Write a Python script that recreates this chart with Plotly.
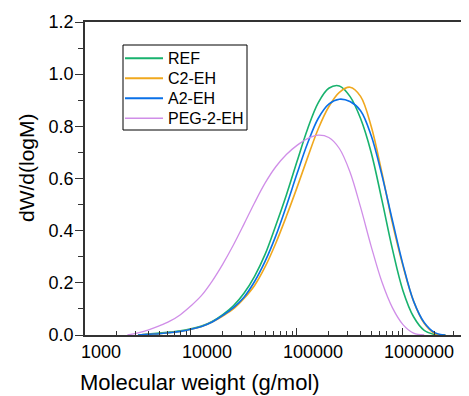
import plotly.graph_objects as go

# ---- data ----
mw = [2512, 3162, 3981, 5012, 6310, 7943, 10000, 12589, 15849, 19953,
      25119, 31623, 39811, 50119, 63096, 79433, 100000, 125893, 158489,
      199526, 251189, 316228, 398107, 501187, 630957, 794328, 1000000,
      1258925, 1584893, 1995262, 2511886]

ref = [None, 0.0, 0.004, 0.007, 0.011, 0.016, 0.024, 0.034, 0.052, 0.078,
       0.112, 0.16, 0.225, 0.31, 0.42, 0.537, 0.665, 0.79, 0.89,
       0.946, 0.955, 0.915, 0.83, 0.70, 0.52, 0.33, 0.17,
       0.07, 0.018, 0.002, 0.0]
c2eh = [None, 0.0, 0.003, 0.005, 0.009, 0.014, 0.022, 0.033, 0.05, 0.073,
        0.10, 0.14, 0.19, 0.262, 0.352, 0.455, 0.565, 0.68, 0.79,
        0.875, 0.93, 0.95, 0.915, 0.80, 0.625, 0.43, 0.265,
        0.13, 0.045, 0.006, 0.0]
a2eh = [None, 0.0, 0.003, 0.005, 0.009, 0.014, 0.022, 0.033, 0.05, 0.075,
        0.105, 0.145, 0.205, 0.283, 0.38, 0.495, 0.618, 0.735, 0.83,
        0.885, 0.904, 0.895, 0.86, 0.765, 0.615, 0.44, 0.27,
        0.13, 0.048, 0.009, 0.0]
peg = [0.0, 0.008, 0.02, 0.035, 0.053, 0.078, 0.112, 0.152, 0.207, 0.272,
       0.345, 0.425, 0.507, 0.583, 0.645, 0.692, 0.727, 0.753, 0.766,
       0.757, 0.715, 0.625, 0.49, 0.34, 0.205, 0.105, 0.04,
       0.007, 0.0, None, None]

series_names = ["REF", "C2-EH", "A2-EH", "PEG-2-EH"]
series_values = [ref, c2eh, a2eh, peg]
series_colors = ["#18b26e", "#f0a81e", "#0a70e8", "#d08ee8"]
series_widths = [1.6, 1.6, 1.6, 1.3]

x_tickvals = [1000, 10000, 100000, 1000000]
x_ticktext = ["1000", "10000", "100000", "1000000"]
x_minor = [2000, 3000, 4000, 5000, 6000, 7000, 8000, 9000,
           20000, 30000, 40000, 50000, 60000, 70000, 80000, 90000,
           200000, 300000, 400000, 500000, 600000, 700000, 800000, 900000,
           2000000, 3000000, 4000000]

FONT = "Liberation Sans, Arial, sans-serif"

# figure geometry (page has an 8px body margin)
W, H = 461, 388
ML, MR, MT, MB = 77, 0, 14, 61
PW, PH = W - ML - MR, H - MT - MB


def px(xp):  # page x pixel -> paper x
    return (xp - 8 - ML) / PW


def py(yp):  # page y pixel -> paper y
    return (H - MB - (yp - 8)) / PH


fig = go.Figure()
for name, vals, col, w in zip(series_names, series_values, series_colors, series_widths):
    fig.add_trace(go.Scatter(x=mw, y=vals, mode="lines", name=name, showlegend=False,
                             connectgaps=False,
                             line=dict(color=col, width=w, shape="spline", smoothing=1.0)))

fig.update_layout(
    width=W, height=H,
    margin=dict(l=ML, r=MR, t=MT, b=MB, pad=0, autoexpand=False),
    paper_bgcolor="white", plot_bgcolor="white",
    font=dict(family=FONT, color="black"),
    showlegend=False,
)

fig.update_xaxes(
    type="log", range=[3, 6.623], automargin=False,
    showline=True, linecolor="#333333", linewidth=1.5, mirror=True,
    showgrid=False, zeroline=False,
    ticks="inside", ticklen=7, tickwidth=1.2, tickcolor="#333333",
    tickvals=x_tickvals, ticktext=x_ticktext,
    tickfont=dict(size=18, family=FONT, color="black"),
    ticklabelshift=16,
    minor=dict(ticks="inside", ticklen=4, tickwidth=1, tickcolor="#333333",
               tickvals=x_minor, showgrid=False),
)
fig.update_yaxes(
    range=[0, 1.2], automargin=False,
    showline=True, linecolor="#333333", linewidth=1.5, mirror=False,
    showgrid=False, zeroline=False,
    ticks="outside", ticklen=8, tickwidth=1.2, tickcolor="#333333",
    tick0=0, dtick=0.2, tickformat=".1f",
    tickfont=dict(size=18, family=FONT, color="black"),
    ticklabelstandoff=-2,
    minor=dict(ticks="outside", ticklen=5, tickwidth=1, tickcolor="#333333",
               dtick=0.1, showgrid=False),
)

# legend box (drawn manually to match the compact Origin-style legend)
fig.add_shape(type="rect", xref="paper", yref="paper",
              x0=px(123), x1=px(247), y0=py(45), y1=py(130),
              line=dict(color="black", width=1), fillcolor="white", layer="above")
for i, (name, col, w) in enumerate(zip(series_names, series_colors, series_widths)):
    yy = 58.3 + 20 * i
    fig.add_shape(type="line", xref="paper", yref="paper",
                  x0=px(125), x1=px(163), y0=py(yy), y1=py(yy),
                  line=dict(color=col, width=w + 0.3), layer="above")
    fig.add_annotation(text=name, xref="paper", yref="paper",
                       x=px(166), y=py(yy), xanchor="left", yanchor="middle",
                       showarrow=False, font=dict(size=16, family=FONT, color="black"))

fig.add_annotation(text="Molecular weight (g/mol)", xref="paper", yref="paper",
                   x=px(200), y=py(382), xanchor="center", yanchor="middle",
                   showarrow=False, font=dict(size=22, family=FONT, color="black"))
fig.add_annotation(text="dW/d(logM)", xref="paper", yref="paper",
                   x=px(27), y=py(168), xanchor="center", yanchor="middle",
                   textangle=-90, showarrow=False,
                   font=dict(size=21, family=FONT, color="black"))

fig.write_html("out.html")
